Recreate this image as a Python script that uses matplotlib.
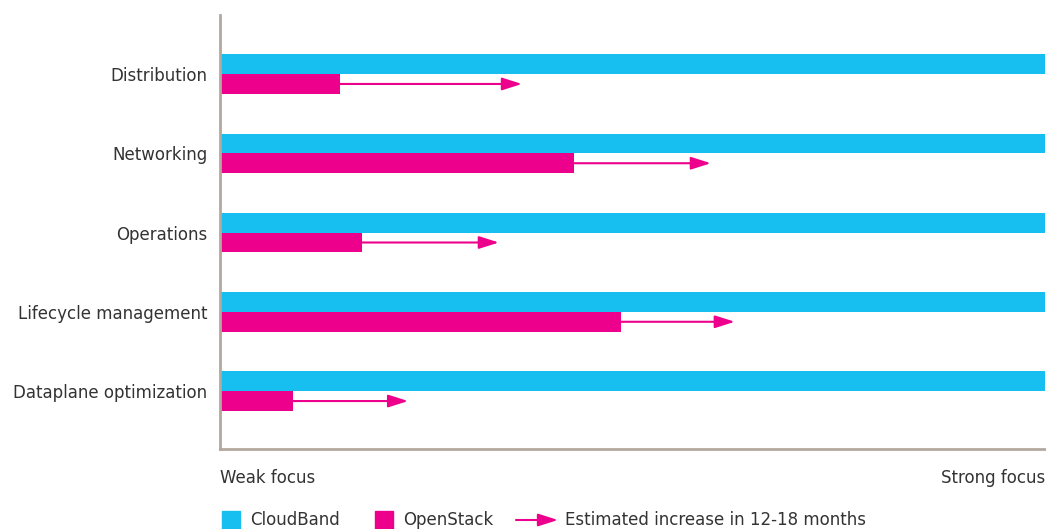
import matplotlib
matplotlib.use("Agg")
import matplotlib.pyplot as plt
from matplotlib.patches import Rectangle, FancyArrowPatch

categories = ["Distribution", "Networking", "Operations", "Lifecycle management", "Dataplane optimization"]
cloudband = [1.0, 1.0, 1.0, 1.0, 1.0]
openstack = [0.145, 0.429, 0.172, 0.486, 0.088]
estimated = [0.366, 0.595, 0.338, 0.624, 0.228]

cyan = "#16bff0"
magenta = "#ec008c"
axis_col = "#b3a89e"
text_col = "#333333"
arrow_style = "-|>,head_length=1.2,head_width=0.38"

plt.rcParams['font.family'] = ['DejaVu Sans']

fig = plt.figure(figsize=(10.46, 5.29), dpi=100)
ax = fig.add_axes([220 / 1046, 1 - 449 / 529, 825 / 1046, 434 / 529])

ypos = list(range(len(categories)))
h = 0.25
ax.barh([y - h / 2 for y in ypos], cloudband, height=h, color=cyan)
ax.barh([y + h / 2 for y in ypos], openstack, height=h, color=magenta)

for y, s, e in zip(ypos, openstack, estimated):
    ax.annotate("", xy=(e, y + h / 2), xytext=(s, y + h / 2),
                arrowprops=dict(arrowstyle=arrow_style, mutation_scale=10,
                                color=magenta, lw=1.5, shrinkA=0, shrinkB=0))

ax.set_xlim(0, 1)
ax.set_ylim(4.73, -0.745)
ax.set_yticks(ypos)
ax.set_yticklabels(categories, fontsize=12, color=text_col)
ax.tick_params(axis='y', length=0, pad=9)
ax.set_xticks([])
for side in ['top', 'right']:
    ax.spines[side].set_visible(False)
for side in ['left', 'bottom']:
    ax.spines[side].set_color(axis_col)
    ax.spines[side].set_linewidth(2)

ax.text(0, -0.045, "Weak focus", transform=ax.transAxes, ha='left', va='top',
        fontsize=12, color=text_col)
ax.text(1, -0.045, "Strong focus", transform=ax.transAxes, ha='right', va='top',
        fontsize=12, color=text_col)

# legend drawn by hand
def px(x, y):
    return x / 1046, 1 - y / 529

fig.add_artist(Rectangle(px(222, 529), 18 / 1046, 18 / 529, transform=fig.transFigure, color=cyan))
fig.text(*px(250, 520), "CloudBand", ha='left', va='center', fontsize=12, color=text_col)
fig.add_artist(Rectangle(px(375, 529), 18 / 1046, 18 / 529, transform=fig.transFigure, color=magenta))
fig.text(*px(403, 520), "OpenStack", ha='left', va='center', fontsize=12, color=text_col)
fig.add_artist(FancyArrowPatch(px(516, 520), px(558, 520), transform=fig.transFigure,
                               arrowstyle=arrow_style, mutation_scale=10,
                               color=magenta, lw=1.5, shrinkA=0, shrinkB=0))
fig.text(*px(565, 520), "Estimated increase in 12-18 months", ha='left', va='center',
         fontsize=12, color=text_col)

fig.savefig("out.png", dpi=100)
